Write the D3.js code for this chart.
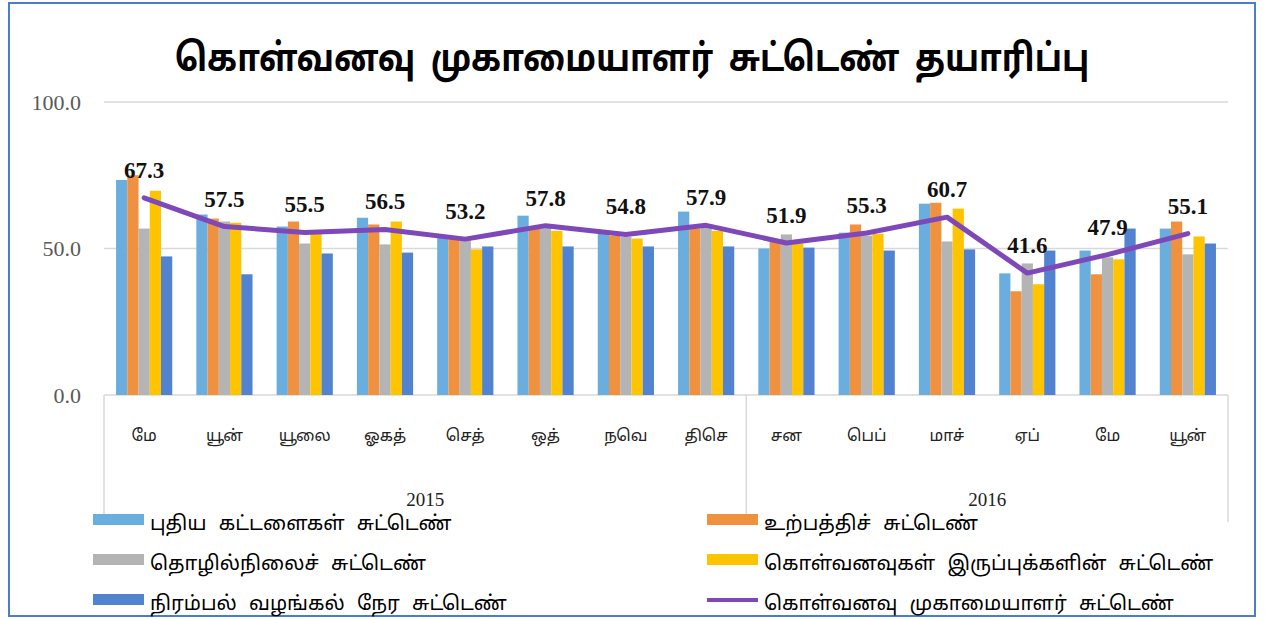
<!DOCTYPE html>
<html>
<head>
<meta charset="utf-8">
<script src="https://cdn.jsdelivr.net/npm/d3@7"></script>
<style>
  html, body { margin: 0; padding: 0; background: #fff; }
  svg { display: block; }
</style>
</head>
<body>
<svg id="chart" width="1265" height="619"></svg>
<script>
const title = "கொள்வனவு முகாமையாளர் சுட்டெண் தயாரிப்பு";
const months = ["மே","யூன்","யூலை","ஓகத்","செத்","ஒத்","நவெ","திசெ","சன","பெப்","மாச்","ஏப்","மே","யூன்"];
const years = [{label:"2015", from:0, to:7},{label:"2016", from:8, to:13}];
const seriesNames = ["புதிய கட்டளைகள் சுட்டெண்","உற்பத்திச் சுட்டெண்","தொழில்நிலைச் சுட்டெண்","கொள்வனவுகள் இருப்புக்களின் சுட்டெண்","நிரம்பல் வழங்கல் நேர சுட்டெண்"];
const lineName = "கொள்வனவு முகாமையாளர் சுட்டெண்";
const newOrders   = [73.4,61.6,57.5,60.5,53.7,61.2,55.1,62.6,50.0,55.4,65.3,41.5,49.3,56.8];
const production  = [75.0,60.2,59.2,58.2,53.4,56.8,54.4,56.8,52.7,58.2,65.6,35.4,41.2,59.2];
const employment  = [56.8,59.2,51.7,51.4,52.7,57.0,54.0,57.0,54.8,54.4,52.4,44.9,47.0,48.0];
const stocks      = [69.7,58.8,55.0,59.2,49.7,56.0,53.4,56.0,51.7,55.0,63.6,37.8,46.3,54.1];
const delivery    = [47.3,41.2,48.3,48.6,50.7,50.7,50.7,50.7,50.3,49.3,49.7,49.3,56.8,51.7];
const pmi         = [67.3,57.5,55.5,56.5,53.2,57.8,54.8,57.9,51.9,55.3,60.7,41.6,47.9,55.1];
const yTicks = [0,50,100];

const barSeries = [newOrders, production, employment, stocks, delivery];
const colors = ["#6AAEDF","#F0913F","#B4B4B4","#FFC400","#5183D0"];
const lineColor = "#7E48B8";
const tamilFont = "Latha, 'Noto Sans Tamil', 'Lohit Tamil', 'Noto Sans', sans-serif";
const serifFont = "'Liberation Serif', 'Times New Roman', serif";

const svg = d3.select("#chart");

// border
svg.append("rect").attr("x",9).attr("y",3).attr("width",1246).attr("height",613)
  .attr("fill","#fff").attr("stroke","#4A7EC8").attr("stroke-width",2);

// title (horizontally condensed)
svg.append("text").attr("transform","translate(632,71) scale(0.865,1)").attr("text-anchor","middle")
  .attr("font-family",tamilFont).attr("font-size",38).attr("font-weight","bold")
  .attr("word-spacing",8).attr("fill","#000")
  .text(title);

const idx = d3.range(months.length);
const x = d3.scaleBand().domain(idx).range([104,1228]).paddingInner(0.3).paddingOuter(0.15);
const xs = d3.scaleBand().domain(d3.range(barSeries.length)).range([0, x.bandwidth()]);
const y = d3.scaleLinear().domain([0,100]).range([395,102]);

// grid lines
svg.append("g").selectAll("line").data(yTicks).join("line")
  .attr("x1",104).attr("x2",1228)
  .attr("y1",d=>y(d)).attr("y2",d=>y(d))
  .attr("stroke","#D9D9D9").attr("stroke-width",1.5);

// y axis via d3 axis
const yAxis = d3.axisLeft(y).tickValues(yTicks).tickFormat(d3.format(".1f")).tickSize(0).tickPadding(0);
const gy = svg.append("g").attr("transform","translate(81,0)").call(yAxis);
gy.select(".domain").remove();
gy.selectAll("text").attr("font-family",serifFont).attr("font-size",22).attr("fill","#595959");

// bars
const groups = svg.append("g").selectAll("g").data(idx).join("g")
  .attr("transform", i => `translate(${x(i)},0)`);
groups.selectAll("rect").data(i => barSeries.map((s,k)=>({k, v:s[i]}))).join("rect")
  .attr("x", d=>xs(d.k)).attr("width", xs.bandwidth())
  .attr("y", d=>y(d.v)).attr("height", d=>y(0)-y(d.v))
  .attr("fill", d=>colors[d.k]);

// line
const line = d3.line().x((d,i)=>x(i)+x.bandwidth()/2).y(d=>y(d));
svg.append("path").datum(pmi).attr("d",line).attr("fill","none")
  .attr("stroke",lineColor).attr("stroke-width",5).attr("stroke-linejoin","round").attr("stroke-linecap","round");

// data labels
svg.append("g").selectAll("text").data(pmi).join("text")
  .attr("x",(d,i)=>x(i)+x.bandwidth()/2).attr("y",d=>y(d)-20)
  .attr("text-anchor","middle").attr("font-family",serifFont).attr("font-size",23)
  .attr("font-weight","bold").attr("fill","#111")
  .text(d=>d3.format(".1f")(d));

// x axis category labels via d3 axis
const xAxis = d3.axisBottom(x).tickFormat(i=>months[i]).tickSize(0).tickPadding(0);
const gx = svg.append("g").attr("transform","translate(0,430)").call(xAxis);
gx.select(".domain").remove();
gx.selectAll("text").attr("font-family",tamilFont).attr("font-size",16).attr("fill","#222");

// separators
const sepX = [104, (x(7)+x.bandwidth()+x(8))/2, 1228];
svg.append("g").selectAll("line").data(sepX).join("line")
  .attr("x1",d=>d).attr("x2",d=>d).attr("y1",395).attr("y2",522)
  .attr("stroke","#D9D9D9").attr("stroke-width",1.5);

// year labels
svg.append("g").selectAll("text").data(years).join("text")
  .attr("x",d=>(x(d.from)+x(d.to)+x.bandwidth())/2).attr("y",506)
  .attr("text-anchor","middle").attr("font-family",serifFont).attr("font-size",19).attr("fill","#222")
  .text(d=>d.label);

// legend
const legendItems = [
  {name:seriesNames[0], color:colors[0], col:0, row:0, type:"bar"},
  {name:seriesNames[1], color:colors[1], col:1, row:0, type:"bar"},
  {name:seriesNames[2], color:colors[2], col:0, row:1, type:"bar"},
  {name:seriesNames[3], color:colors[3], col:1, row:1, type:"bar"},
  {name:seriesNames[4], color:colors[4], col:0, row:2, type:"bar"},
  {name:lineName, color:lineColor, col:1, row:2, type:"line"}
];
const colX = [93, 707];
const rowY = [520, 560, 600];
const lg = svg.append("g").selectAll("g").data(legendItems).join("g")
  .attr("transform", d=>`translate(${colX[d.col]},${rowY[d.row]})`);
lg.append("rect")
  .attr("x",0).attr("width",51)
  .attr("y",d=>d.type==="line"?-2:-6).attr("height",d=>d.type==="line"?4:11)
  .attr("fill",d=>d.color);
lg.append("text").attr("x",57).attr("y",10)
  .attr("font-family",tamilFont).attr("font-size",20).attr("word-spacing",7).attr("fill","#000")
  .text(d=>d.name);
</script>
</body>
</html>
